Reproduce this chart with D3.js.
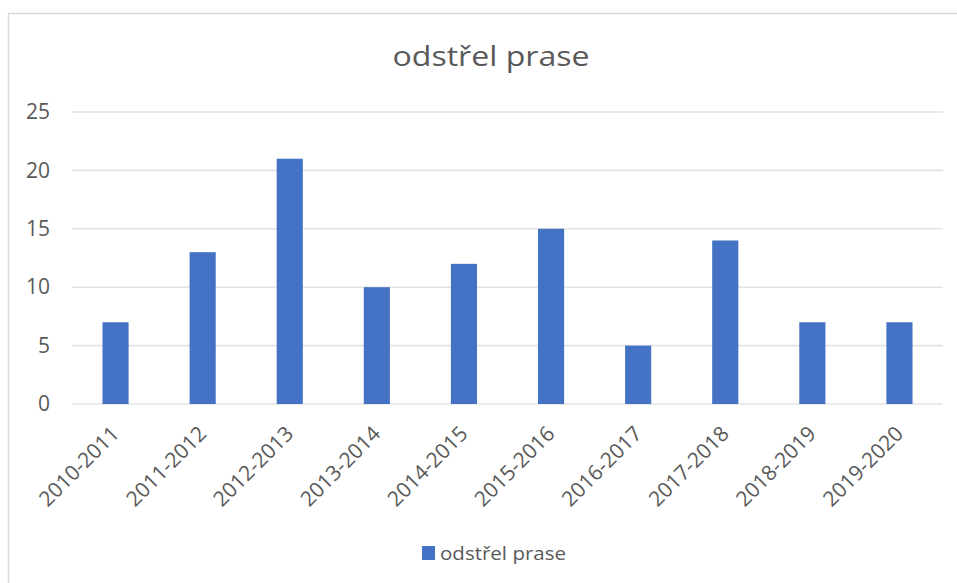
<!DOCTYPE html>
<html>
<head>
<meta charset="utf-8">
<script src="https://cdn.jsdelivr.net/npm/d3@7"></script>
<style>
  html, body { margin: 0; padding: 0; background: #ffffff; }
  svg { display: block; }
  text { font-family: "Open Sans", "DejaVu Sans", sans-serif; fill: #595959; }
</style>
</head>
<body>
<svg id="chart" width="957" height="583"></svg>
<script>
const categories = ["2010-2011","2011-2012","2012-2013","2013-2014","2014-2015","2015-2016","2016-2017","2017-2018","2018-2019","2019-2020"];
const values = [7, 13, 21, 10, 12, 15, 5, 14, 7, 7];
const yTicks = [0, 5, 10, 15, 20, 25];
const seriesName = "odstřel prase";
const chartTitle = "odstřel prase";

const W = 957, H = 583;
const margin = { left: 72, right: 14, top: 112, bottom: 179 };
const svg = d3.select("#chart");

// chart area border (top and left visible)
svg.append("line").attr("x1", 8).attr("x2", W).attr("y1", 13.5).attr("y2", 13.5)
  .attr("stroke", "#d9d9d9").attr("stroke-width", 1.5);
svg.append("line").attr("x1", 8.5).attr("x2", 8.5).attr("y1", 13).attr("y2", H)
  .attr("stroke", "#d9d9d9").attr("stroke-width", 1.5);

const x = d3.scaleBand().domain(categories)
  .range([margin.left, W - margin.right])
  .paddingInner(0.7).paddingOuter(0.35);
const y = d3.scaleLinear().domain([0, 25]).range([H - margin.bottom, margin.top]);

// gridlines
svg.append("g").selectAll("line").data(yTicks).join("line")
  .attr("x1", margin.left).attr("x2", W - margin.right)
  .attr("y1", d => y(d)).attr("y2", d => y(d))
  .attr("stroke", "#e3e3e3").attr("stroke-width", 1.6);

// y axis labels
const yAxis = d3.axisLeft(y).tickValues(yTicks).tickSize(0).tickPadding(22);
const yg = svg.append("g").attr("transform", `translate(${margin.left},0)`).call(yAxis);
yg.select(".domain").remove();
yg.selectAll("text").attr("font-size", 21).attr("font-family", null).attr("fill", "#595959").attr("dy", "0.32em");

// bars
svg.append("g").selectAll("rect").data(values).join("rect")
  .attr("x", (d, i) => x(categories[i]))
  .attr("y", d => y(d))
  .attr("width", x.bandwidth())
  .attr("height", d => y(0) - y(d))
  .attr("fill", "#4472c4");

// x axis
const xAxis = d3.axisBottom(x).tickSize(0).tickPadding(0);
const xg = svg.append("g").attr("transform", `translate(0,${y(0)})`).call(xAxis);
xg.select(".domain").remove();
xg.selectAll("text")
  .attr("font-size", 21).attr("font-family", null).attr("fill", "#595959")
  .attr("text-anchor", "end")
  .attr("y", 0).attr("dy", 0)
  .attr("transform", "translate(5,31) rotate(-45)");

// title
svg.append("text").attr("x", 491).attr("y", 66)
  .attr("text-anchor", "middle").attr("font-size", 27)
  .attr("textLength", 197).attr("lengthAdjust", "spacingAndGlyphs")
  .text(chartTitle);

// legend
const lg = svg.append("g");
lg.append("rect").attr("x", 422).attr("y", 546).attr("width", 13).attr("height", 14).attr("fill", "#4472c4");
lg.append("text").attr("x", 440).attr("y", 559.5).attr("font-size", 19)
  .attr("textLength", 126).attr("lengthAdjust", "spacingAndGlyphs")
  .text(seriesName);
</script>
</body>
</html>
